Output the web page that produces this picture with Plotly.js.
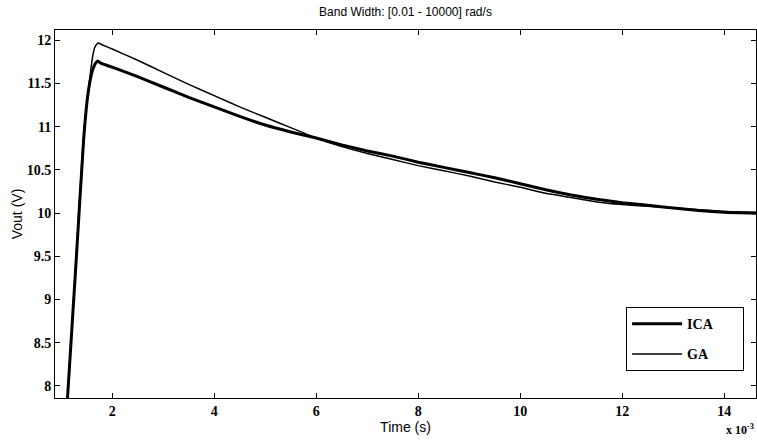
<!DOCTYPE html>
<html>
<head>
<meta charset="utf-8">
<script src="https://cdn.plot.ly/plotly-3.0.1.min.js"></script>
<style>html,body{margin:0;padding:0;background:#fff;}#chart{width:757px;height:441px;}</style>
</head>
<body>
<div id="chart"></div>
<script>
// time in units of 1e-3 s
var icaTime = [1.05, 1.125, 1.30, 1.44, 1.52, 1.60, 1.66, 1.71, 1.80, 2.0, 2.5, 3.0, 3.5, 4.0, 4.5, 5.0, 5.5, 6.0, 6.5, 7.0, 7.5, 8.0, 8.5, 9.0, 9.5, 10.0, 10.5, 11.0, 11.5, 12.0, 12.5, 13.0, 13.5, 14.0, 14.62];
var icaVout = [7.15, 7.86, 9.50, 10.84, 11.35, 11.62, 11.72, 11.76, 11.73, 11.69, 11.58, 11.46, 11.34, 11.23, 11.12, 11.02, 10.94, 10.87, 10.79, 10.72, 10.66, 10.59, 10.53, 10.47, 10.41, 10.34, 10.27, 10.21, 10.16, 10.12, 10.09, 10.06, 10.03, 10.01, 10.00];
var gaTime = [1.05, 1.125, 1.30, 1.44, 1.50, 1.54, 1.58, 1.62, 1.66, 1.72, 1.80, 2.0, 2.5, 3.0, 3.5, 4.0, 4.5, 5.0, 5.5, 6.0, 6.5, 7.0, 7.5, 8.0, 8.5, 9.0, 9.5, 10.0, 10.5, 11.0, 11.5, 12.0, 12.5, 13.0, 13.5, 14.0, 14.62];
var gaVout = [7.10, 7.82, 9.55, 10.90, 11.28, 11.45, 11.65, 11.82, 11.92, 11.97, 11.95, 11.90, 11.77, 11.63, 11.49, 11.36, 11.23, 11.11, 10.99, 10.87, 10.77, 10.69, 10.62, 10.55, 10.49, 10.43, 10.36, 10.30, 10.23, 10.18, 10.13, 10.10, 10.08, 10.06, 10.04, 10.02, 10.01];
var xTicks = [2, 4, 6, 8, 10, 12, 14];
var yTicks = [8, 8.5, 9, 9.5, 10, 10.5, 11, 11.5, 12];
var yTickText = ['8', '8.5', '9', '9.5', '10', '10.5', '11', '11.5', '12'];

var serif = 'Liberation Serif';
var sans = 'Liberation Sans';
var tickFont = {family: serif, size: 14, color: '#000', weight: 700};
var traces = [
  {x: icaTime, y: icaVout, type: 'scatter', mode: 'lines', name: '<b>ICA</b>\u00a0\u00a0\u00a0\u00a0\u00a0\u00a0\u00a0', legendgroup: 'a', line: {color: '#000', width: 3, shape: 'spline', smoothing: 0.4}},
  {x: gaTime, y: gaVout, type: 'scatter', mode: 'lines', name: '<b>GA</b>', legendgroup: 'b', line: {color: '#000', width: 1.5, shape: 'spline', smoothing: 0.4}}
];
var layout = {
  width: 757, height: 441,
  font: {family: serif, size: 14, color: '#000'},
  margin: {l: 54.5, r: 1, t: 30, b: 43},
  paper_bgcolor: '#fff', plot_bgcolor: '#fff',
  title: {text: 'Band Width: [0.01 - 10000] rad/s', font: {family: sans, size: 12, color: '#000'}, x: 0.5, xref: 'paper', y: 0.973, yanchor: 'middle'},
  xaxis: {
    range: [0.88, 14.62], tickvals: xTicks, ticktext: xTicks.map(String),
    ticks: 'inside', ticklen: 5, tickcolor: '#000', showline: true, linecolor: '#000', linewidth: 1, mirror: 'ticks',
    showgrid: false, zeroline: false, tickfont: tickFont,
    title: {text: 'Time (s)', font: {family: sans, size: 14, color: '#000'}, standoff: 4}
  },
  yaxis: {
    range: [7.86, 12.12], tickvals: yTicks, ticktext: yTickText,
    ticks: 'inside', ticklen: 5, tickcolor: '#000', showline: true, linecolor: '#000', linewidth: 1, mirror: 'ticks',
    showgrid: false, zeroline: false, tickfont: tickFont,
    title: {text: 'Vout (V)', font: {family: sans, size: 14, color: '#000'}, standoff: 0}
  },
  showlegend: true,
  legend: {x: 0.983, xanchor: 'right', y: 0.247, yanchor: 'top', bgcolor: '#fff', bordercolor: '#000', borderwidth: 1,
    font: {family: serif, size: 14, color: '#000'}, tracegroupgap: 9, itemwidth: 50},
  annotations: [
    {text: '<b>x 10<sup>-3</sup></b>', xref: 'paper', yref: 'paper', x: 1, y: -0.085, xanchor: 'right', yanchor: 'middle', showarrow: false,
     font: {family: serif, size: 12, color: '#000'}}
  ]
};
Plotly.newPlot('chart', traces, layout, {displayModeBar: false, staticPlot: true});
</script>
</body>
</html>
